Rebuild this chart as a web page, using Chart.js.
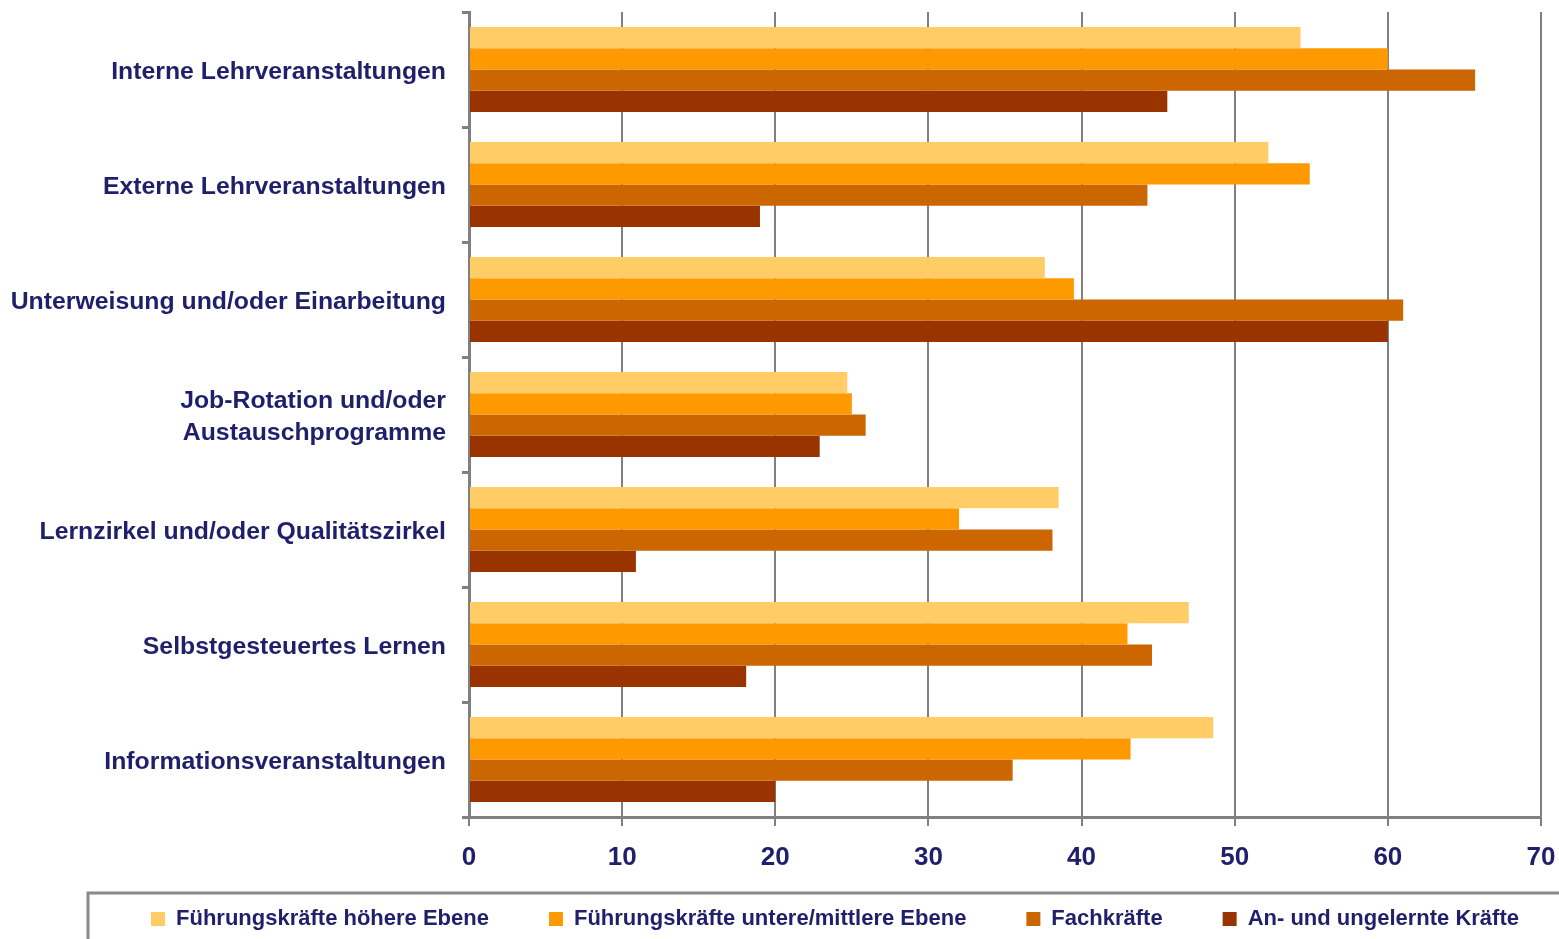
<!DOCTYPE html>
<html>
<head>
<meta charset="utf-8">
<script src="https://cdn.jsdelivr.net/npm/chart.js@4"></script>
<style>
  html, body { margin: 0; padding: 0; background: #fff; }
  #wrap { width: 1559px; height: 939px; }
</style>
</head>
<body>
<div id="wrap"><canvas id="chart" width="1559" height="939"></canvas></div>
<script>
const categories = [
  'Interne Lehrveranstaltungen',
  'Externe Lehrveranstaltungen',
  'Unterweisung und/oder Einarbeitung',
  ['Job-Rotation und/oder', 'Austauschprogramme'],
  'Lernzirkel und/oder Qualitätszirkel',
  'Selbstgesteuertes Lernen',
  'Informationsveranstaltungen'
];

const seriesNames = [
  'Führungskräfte höhere Ebene',
  'Führungskräfte untere/mittlere Ebene',
  'Fachkräfte',
  'An- und ungelernte Kräfte'
];

const fuehrungHoch = [54.3, 52.2, 37.6, 24.7, 38.5, 47.0, 48.6];
const fuehrungMittel = [60.0, 54.9, 39.5, 25.0, 32.0, 43.0, 43.2];
const fachkraefte = [65.7, 44.3, 61.0, 25.9, 38.1, 44.6, 35.5];
const ungelernt = [45.6, 19.0, 60.0, 22.9, 10.9, 18.1, 20.0];

const xTicks = [0, 10, 20, 30, 40, 50, 60, 70];

const colors = ['#FFCC66', '#FF9900', '#CC6600', '#993300'];
const textColor = '#1F1F6B';
const axisGray = '#808080';
const legendFontSize = 22;
const legendGap = 60;

// legend sits in a grey frame, centred a bit right of the canvas middle
const legendFrame = {
  id: 'legendFrame',
  afterLayout(chart) {
    const lg = chart.legend;
    lg.left = 60;
    lg.right = 1610;
    lg.top = 919 - legendGap - legendFontSize / 2;
  },
  afterDraw(chart) {
    const ctx = chart.ctx;
    ctx.save();
    ctx.strokeStyle = '#8a8a8a';
    ctx.lineWidth = 3;
    ctx.beginPath();
    ctx.moveTo(88, chart.height + 2);
    ctx.lineTo(88, 893);
    ctx.lineTo(chart.width + 2, 893);
    ctx.stroke();
    ctx.restore();
  }
};

const ctx = document.getElementById('chart').getContext('2d');
new Chart(ctx, {
  type: 'bar',
  data: {
    labels: categories,
    datasets: [fuehrungHoch, fuehrungMittel, fachkraefte, ungelernt].map((d, i) => ({
      label: seriesNames[i],
      data: d,
      backgroundColor: colors[i],
      borderWidth: 0,
      categoryPercentage: 0.74,
      barPercentage: 1.0
    }))
  },
  options: {
    indexAxis: 'y',
    responsive: false,
    animation: false,
    layout: { padding: { top: 12, right: 18, left: 0, bottom: 0 } },
    plugins: {
      tooltip: { enabled: false },
      legend: {
        position: 'bottom',
        maxHeight: 46,
        labels: {
          boxWidth: 14,
          boxHeight: 14,
          padding: legendGap,
          color: textColor,
          font: { family: 'Liberation Sans', weight: 'bold', size: legendFontSize }
        }
      }
    },
    scales: {
      x: {
        min: 0,
        max: 70,
        afterFit: (scale) => {
          scale.height = 76;
          scale.paddingLeft = 0;
          scale.paddingRight = 0;
        },
        afterBuildTicks: (scale) => { scale.ticks = xTicks.map(v => ({ value: v })); },
        grid: { color: axisGray, lineWidth: 2, tickLength: 9 },
        border: { color: axisGray, width: 3 },
        ticks: {
          color: textColor,
          padding: 16,
          maxRotation: 0,
          font: { family: 'Liberation Sans', weight: 'bold', size: 26 }
        }
      },
      y: {
        afterFit: (scale) => {
          scale.width = 469;
          scale.paddingTop = 0;
          scale.paddingBottom = 0;
        },
        grid: { drawOnChartArea: false, color: axisGray, lineWidth: 3, tickLength: 7, offset: true },
        border: { color: axisGray, width: 3 },
        ticks: {
          color: textColor,
          padding: 16,
          labelOffset: 3,
          font: { family: 'Liberation Sans', weight: 'bold', size: 24.8, lineHeight: 1.29 }
        }
      }
    }
  },
  plugins: [legendFrame]
});
</script>
</body>
</html>
